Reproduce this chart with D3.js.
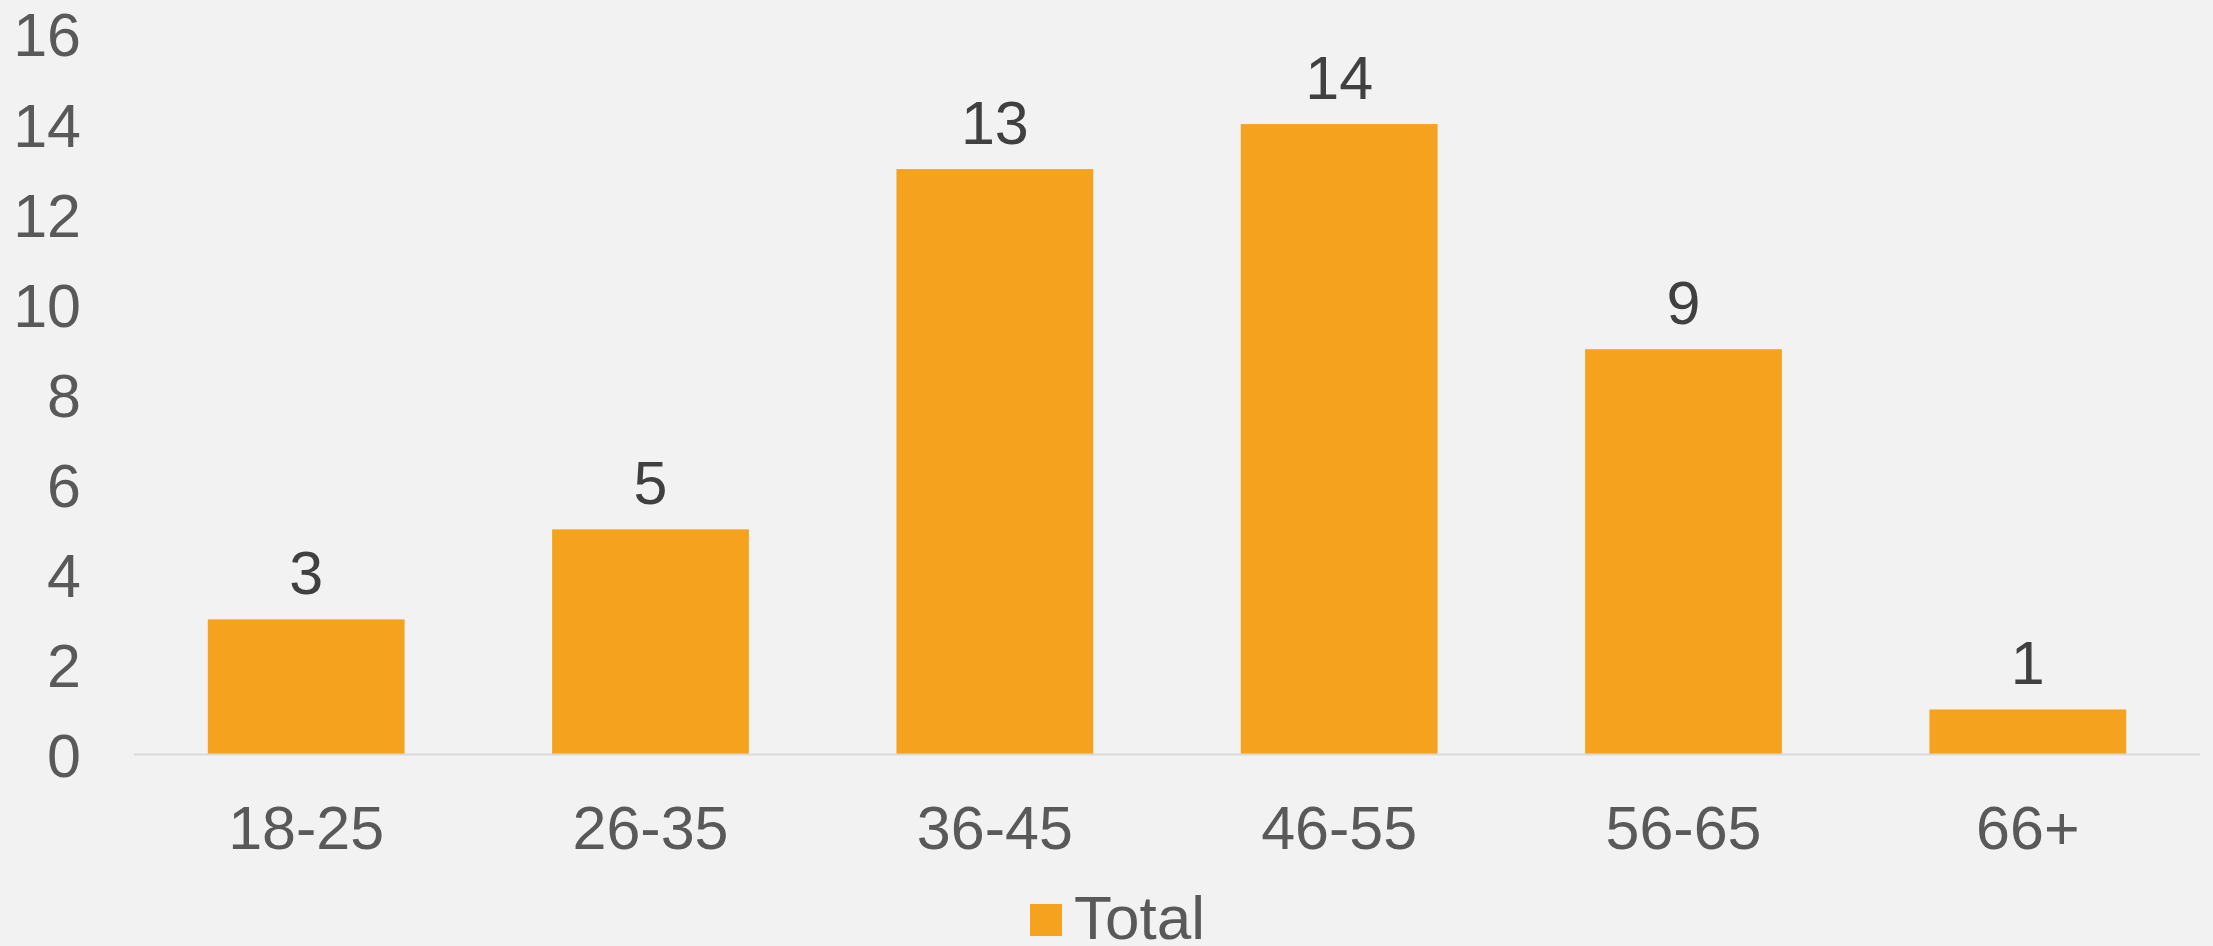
<!DOCTYPE html>
<html><head><meta charset="utf-8">
<script src="https://cdn.jsdelivr.net/npm/d3@7"></script>
<style>html,body{margin:0;padding:0;background:#f2f2f2;}svg{display:block;}</style>
</head><body>
<script>
const categories = ["18-25","26-35","36-45","46-55","56-65","66+"];
const values = [3,5,13,14,9,1];
const yTicks = [0,2,4,6,8,10,12,14,16];
const seriesName = "Total";

(function(){
const W = 2213, H = 946;
const mLeft = 134, mRight = 2200, mTop = 34, mBottom = 754.5;
const svg = d3.select("body").append("svg").attr("width",W).attr("height",H)
  .style("font-family","'Liberation Sans', Arial, sans-serif");
svg.append("rect").attr("width",W).attr("height",H).attr("fill","#f2f2f2");

const x = d3.scaleBand().domain(categories).range([mLeft,mRight]).paddingInner(0.4285).paddingOuter(0.2143);
const y = d3.scaleLinear().domain([0,16]).range([mBottom,mTop]);
const color = "#f5a31e";

// y axis labels
const ya = svg.append("g").attr("transform",`translate(81,0)`)
  .call(d3.axisLeft(y).tickValues(yTicks).tickSize(0).tickPadding(0));
ya.select(".domain").remove();
ya.selectAll("text").attr("font-size",61).attr("fill","#595959")
  .attr("font-family","'Liberation Sans', Arial, sans-serif").attr("dy","0.36em");

// bars
svg.selectAll("rect.bar").data(values).join("rect").attr("class","bar")
  .attr("x",(d,i)=>x(categories[i])).attr("width",x.bandwidth())
  .attr("y",d=>y(d)).attr("height",d=>mBottom-y(d)).attr("fill",color);

// baseline axis
const xa = svg.append("g").attr("transform",`translate(0,${mBottom})`)
  .call(d3.axisBottom(x).tickSize(0).tickPadding(0));
xa.select(".domain").attr("stroke","#d9d9d9").attr("stroke-width",2)
  .attr("d",`M${mLeft},0H${mRight}`);
xa.selectAll("text").attr("font-size",61).attr("fill","#595959")
  .attr("font-family","'Liberation Sans', Arial, sans-serif").attr("dy",null).attr("y",94);

// data labels
svg.selectAll("text.lbl").data(values).join("text").attr("class","lbl")
  .attr("x",(d,i)=>x(categories[i])+x.bandwidth()/2).attr("y",d=>y(d)-25)
  .attr("text-anchor","middle").attr("font-size",61).attr("fill","#404040")
  .text(d=>d);

// legend
const lg = svg.append("g");
lg.append("rect").attr("x",1030).attr("y",904).attr("width",32).attr("height",32).attr("fill",color);
lg.append("text").attr("x",1074).attr("y",939).attr("font-size",62).attr("fill","#595959").text(seriesName);
})();
</script>
</body></html>
